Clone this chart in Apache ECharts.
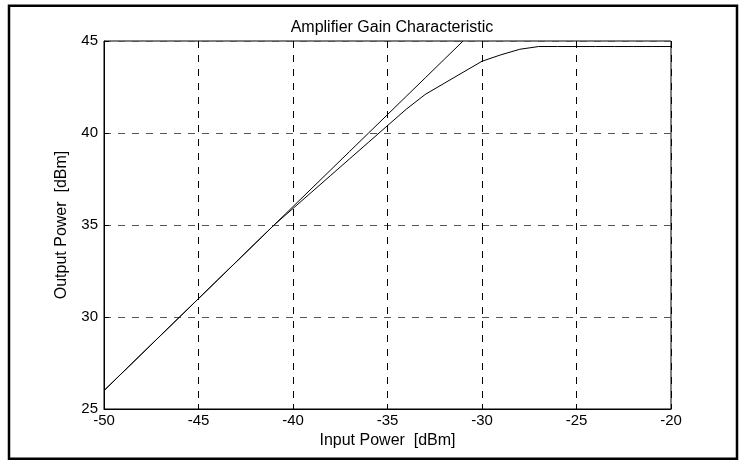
<!DOCTYPE html>
<html>
<head>
<meta charset="utf-8">
<script src="https://cdn.jsdelivr.net/npm/echarts@6/dist/echarts.min.js"></script>
<style>
  html, body { margin: 0; padding: 0; background: #fff; }
  #chart { width: 741px; height: 462px; }
</style>
</head>
<body>
<div id="chart"></div>
<script>
// input power [dBm] for each curve
var linearInput = [-50, -49, -48, -47, -46, -45, -44, -43, -42, -41, -40, -39, -38, -37, -36, -35, -34, -33, -32, -31];
var linearOutput = [26, 27, 28, 29, 30, 31, 32, 33, 34, 35, 36, 37, 38, 39, 40, 41, 42, 43, 44, 45];

var ampInput = [-50, -49, -48, -47, -46, -45, -44, -43, -42, -41, -40, -39, -38, -37, -36, -35, -34, -33, -32, -31, -30, -29, -28, -27, -26, -25, -24, -23, -22, -21, -20];
var ampOutput = [26, 27, 28, 29, 30, 31, 32, 33, 34, 35, 35.9, 36.8, 37.7, 38.6, 39.5, 40.4, 41.3, 42.1, 42.7, 43.3, 43.9, 44.25, 44.55, 44.7, 44.7, 44.7, 44.7, 44.7, 44.7, 44.7, 44.7];

function pairs(xs, ys) {
  var out = [];
  for (var i = 0; i < xs.length; i++) {
    out.push([xs[i], ys[i]]);
  }
  return out;
}

var font = 'Liberation Sans, Arial, sans-serif';
var chart = echarts.init(document.getElementById('chart'));

chart.setOption({
  animation: false,
  backgroundColor: '#fff',
  title: {
    text: 'Amplifier Gain Characteristic',
    left: 387, top: 15,
    textAlign: 'center',
    textStyle: { fontFamily: font, fontSize: 16, fontWeight: 'normal', color: '#000' }
  },
  grid: {
    left: 104, right: 70, top: 41, bottom: 53,
    show: true, borderColor: '#000', borderWidth: 1
  },
  xAxis: {
    type: 'value', min: -50, max: -20, interval: 5,
    name: 'Input Power  [dBm]', nameLocation: 'middle', nameGap: 20,
    nameTextStyle: { fontFamily: font, fontSize: 16, color: '#000' },
    axisLine: { show: true, onZero: false, lineStyle: { color: '#000' } },
    axisTick: { inside: true, length: 5, lineStyle: { color: '#000' } },
    axisLabel: { fontFamily: font, fontSize: 15, color: '#000', margin: 4 },
    splitLine: { show: true, lineStyle: { color: '#000', type: [7, 7], width: 1 } }
  },
  yAxis: {
    type: 'value', min: 25, max: 45, interval: 5,
    name: 'Output Power  [dBm]', nameLocation: 'middle', nameGap: 34,
    nameTextStyle: { fontFamily: font, fontSize: 16, color: '#000' },
    axisLine: { show: true, onZero: false, lineStyle: { color: '#000' } },
    axisTick: { inside: true, length: 5, lineStyle: { color: '#000' } },
    axisLabel: { fontFamily: font, fontSize: 15, color: '#000', margin: 6 },
    splitLine: { show: true, lineStyle: { color: '#555', type: [7, 7], width: 1 } }
  },
  series: [
    {
      type: 'line', data: pairs(linearInput, linearOutput),
      showSymbol: false, clip: true,
      lineStyle: { color: '#000', width: 1 }
    },
    {
      type: 'line', data: pairs(ampInput, ampOutput),
      showSymbol: false, clip: true,
      lineStyle: { color: '#000', width: 1 }
    }
  ],
  graphic: [
    {
      type: 'rect', silent: true,
      shape: { x: 9, y: 5.7, width: 728, height: 453 },
      style: { fill: null, stroke: '#000', lineWidth: 2.5 }
    }
  ]
});
</script>
</body>
</html>
